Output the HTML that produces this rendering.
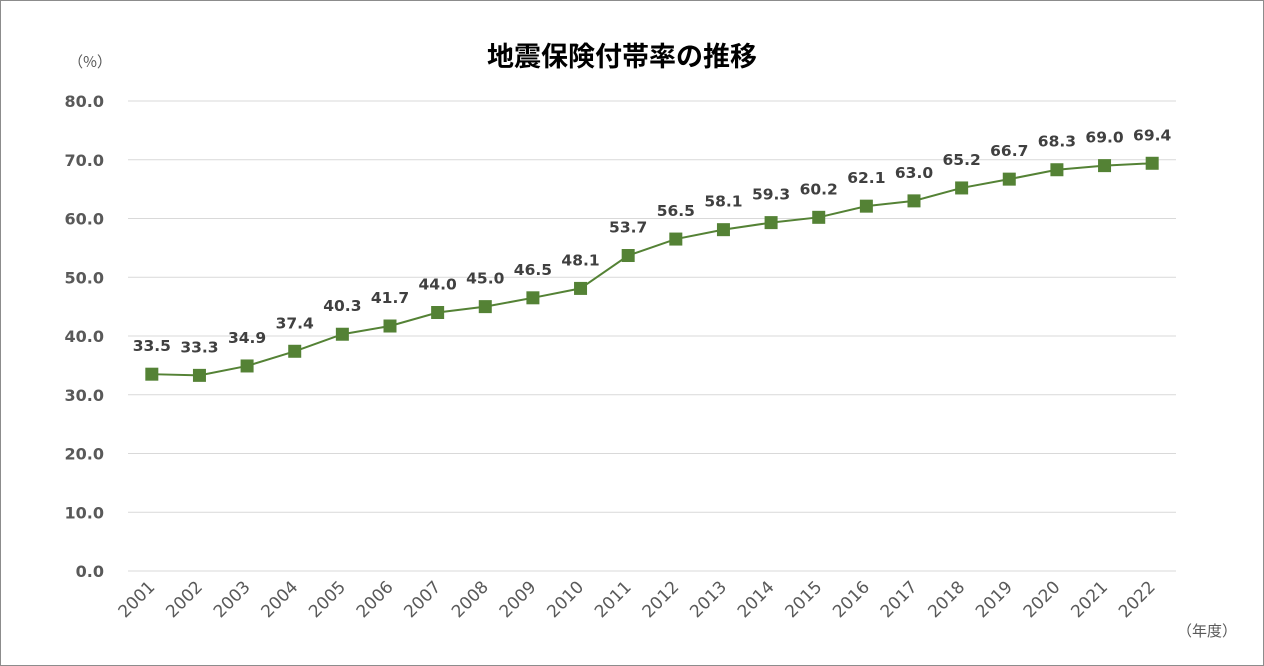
<!DOCTYPE html>
<html><head><meta charset="utf-8"><style>
body{margin:0;background:#fff}
svg{display:block}
text{font-family:"DejaVu Sans","Liberation Sans","Noto Sans CJK JP",sans-serif}
</style></head><body>
<svg id="c" width="1264" height="666">
<rect x="0.5" y="0.5" width="1263" height="665" fill="#fff" stroke="#8c8c8c"/>
<text x="622" y="66" text-anchor="middle" font-size="27" font-weight="bold" fill="#000" style="font-family:'Noto Sans CJK JP',sans-serif">地震保険付帯率の推移</text>
<text x="90" y="67" text-anchor="middle" font-size="15" fill="#595959" style="font-family:'Noto Sans CJK JP',sans-serif">（%）</text>
<text x="1207" y="636" text-anchor="middle" font-size="15" fill="#595959" style="font-family:'Noto Sans CJK JP',sans-serif">（年度）</text>
<g id="grid"></g><g id="yl"></g><g id="xl"></g><g id="series"></g><g id="dl"></g>
</svg>
<script>
const categories=["2001","2002","2003","2004","2005","2006","2007","2008","2009","2010","2011","2012","2013","2014","2015","2016","2017","2018","2019","2020","2021","2022"];
const values=[33.5,33.3,34.9,37.4,40.3,41.7,44.0,45.0,46.5,48.1,53.7,56.5,58.1,59.3,60.2,62.1,63.0,65.2,66.7,68.3,69.0,69.4];
const yTicks=[0,10,20,30,40,50,60,70,80];
const NS="http://www.w3.org/2000/svg";
const L=128,R=1176,T=101,B=571,yMax=80;
const xs=i=>L+(R-L)/categories.length*(i+0.5);
const ys=v=>B-(B-T)*v/yMax;
function mk(p,tag,a){const e=document.createElementNS(NS,tag);for(const k in a)e.setAttribute(k,a[k]);document.getElementById(p).appendChild(e);return e;}
yTicks.forEach(t=>{
 const g=mk('grid','line',{x1:L,x2:R,y1:ys(t),y2:ys(t),stroke:'#d9d9d9','stroke-width':1});
 
 
 const l=mk('yl','text',{x:104,y:ys(t)+6,'text-anchor':'end','font-size':16,'font-weight':'bold',fill:'#595959'});
 l.textContent=t.toFixed(1);
 
 
});
categories.forEach((c,i)=>{
 const x=xs(i)+4,y=588;
 const t=mk('xl','text',{x:x,y:y,'text-anchor':'end','font-size':17,fill:'#595959',transform:`rotate(-45 ${x} ${y})`});
 t.textContent=c;
 
 
});
const pl=mk('series','polyline',{points:values.map((v,i)=>xs(i)+','+ys(v)).join(' '),fill:'none',stroke:'#548235','stroke-width':2});


values.forEach((v,i)=>{
 const m=mk('series','rect',{x:xs(i)-6.5,y:ys(v)-6.5,width:13,height:13,fill:'#548235'});
 
 
 const t=mk('dl','text',{x:xs(i),y:ys(v)-23,'text-anchor':'middle','font-size':15.5,'font-weight':'bold',fill:'#404040'});
 t.textContent=v.toFixed(1);
 
 
});
</script>
</body></html>
